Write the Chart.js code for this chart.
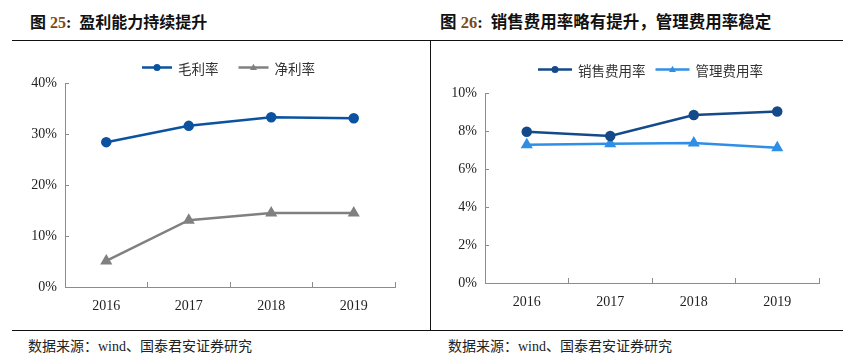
<!DOCTYPE html>
<html>
<head>
<meta charset="utf-8">
<script src="https://cdn.jsdelivr.net/npm/chart.js@4.4.0/dist/chart.umd.min.js"></script>
<style>
  html, body { margin: 0; padding: 0; background: #fff; }
  body { width: 843px; height: 362px; position: relative; overflow: hidden; }
  .title { position: absolute; top: 9px; font: bold 16px "Liberation Serif", "Noto Sans CJK SC", serif; color: #111; white-space: nowrap; }
  .title .num { color: #7b4b12; }
  .note { position: absolute; top: 335px; font: 14px "Liberation Serif", "Noto Sans CJK SC", serif; color: #222; white-space: nowrap; }
  .hline { position: absolute; left: 12px; width: 831px; height: 0; border-top: 1.5px solid #111; }
  .vline { position: absolute; left: 430px; top: 40px; width: 0; height: 290px; border-left: 1.5px solid #111; }
  .box { position: absolute; top: 40px; height: 290px; }
</style>
</head>
<body>
<div class="title" style="left:30px">图 <span class="num">25</span>:&nbsp; 盈利能力持续提升</div>
<div class="title" style="left:440px; font-size:16.5px">图 <span class="num">26</span>:&nbsp; 销售费用率略有提升，管理费用率稳定</div>
<div class="hline" style="top:40px"></div>
<div class="hline" style="top:330px"></div>
<div class="vline"></div>
<div class="box" style="left:0; width:430px"><canvas id="profitChart"></canvas></div>
<div class="box" style="left:431px; width:412px"><canvas id="expenseChart"></canvas></div>
<div class="note" style="left:28px">数据来源：wind、国泰君安证券研究</div>
<div class="note" style="left:448px">数据来源：wind、国泰君安证券研究</div>

<script>
// ---------------------------
// DATA
// ---------------------------
const years = ['2016', '2017', '2018', '2019'];
const grossMargin = [28.4, 31.6, 33.3, 33.1];   // 毛利率 %
const netMargin = [5.1, 13.1, 14.5, 14.5];      // 净利率 %
const sellingRate = [7.96, 7.74, 8.84, 9.03];   // 销售费用率 %
const adminRate = [7.28, 7.33, 7.37, 7.12];     // 管理费用率 %

const serif = "'Liberation Serif', 'Times New Roman', serif";
const cjk = "'Noto Sans CJK SC', sans-serif";
const axisGray = '#8c8c8c';

// legend drawn as line + marker + label, like the source
const lineLegend = {
  id: 'lineLegend',
  afterDraw(chart, args, o) {
    const ctx = chart.ctx;
    let x = o.x;
    const y = o.y;
    ctx.save();
    ctx.font = o.font;
    ctx.textBaseline = 'middle';
    chart.data.datasets.forEach(ds => {
      ctx.strokeStyle = ds.borderColor;
      ctx.lineWidth = ds.borderWidth;
      ctx.beginPath();
      ctx.moveTo(x, y);
      ctx.lineTo(x + o.lineW, y);
      ctx.stroke();
      const cx = x + o.lineW / 2;
      const r = o.markR;
      ctx.fillStyle = ds.pointBackgroundColor;
      ctx.beginPath();
      if (ds.pointStyle === 'triangle') {
        ctx.moveTo(cx, y - r * 1.1);
        ctx.lineTo(cx + r, y + r * 0.7);
        ctx.lineTo(cx - r, y + r * 0.7);
        ctx.closePath();
      } else {
        ctx.arc(cx, y, r, 0, Math.PI * 2);
      }
      ctx.fill();
      ctx.fillStyle = '#333';
      const tx = x + o.lineW + o.textGap;
      ctx.fillText(ds.label, tx, y + 1);
      x = tx + ctx.measureText(ds.label).width + o.itemGap;
    });
    ctx.restore();
  }
};

function makeScales(yMax, step, yWidth, xHeight) {
  return {
    x: {
      offset: true,
      grid: { display: true, drawOnChartArea: false, offset: true, color: axisGray, tickLength: -5, lineWidth: 1 },
      border: { color: axisGray, width: 1 },
      ticks: { color: '#222', font: { family: serif, size: 14 }, padding: 16 },
      afterFit(s) { s.height = xHeight; }
    },
    y: {
      min: 0,
      max: yMax,
      grid: { display: true, drawOnChartArea: false, color: axisGray, tickLength: -4, lineWidth: 1 },
      border: { color: axisGray, width: 1 },
      ticks: {
        stepSize: step,
        color: '#222',
        font: { family: serif, size: 14 },
        padding: 12,
        callback: v => v + '%'
      },
      afterFit(s) { s.width = yWidth; }
    }
  };
}

function lineSet(label, data, color, style, r) {
  return {
    label: label,
    data: data,
    borderColor: color,
    backgroundColor: color,
    pointBackgroundColor: color,
    pointBorderColor: color,
    pointStyle: style,
    pointRadius: r,
    borderWidth: 2.5,
    tension: 0
  };
}

// ---------------------------
// 图25 盈利能力
// ---------------------------
new Chart(document.getElementById('profitChart'), {
  type: 'line',
  data: {
    labels: years,
    datasets: [
      lineSet('毛利率', grossMargin, '#0b52a0', 'circle', 4),
      lineSet('净利率', netMargin, '#808080', 'triangle', 4.5)
    ]
  },
  options: {
    responsive: true,
    maintainAspectRatio: false,
    animation: false,
    layout: { padding: { left: 0, top: 43, right: 35, bottom: 0 } },
    plugins: {
      legend: { display: false },
      tooltip: { enabled: false },
      lineLegend: { x: 142, y: 27.5, lineW: 30, textGap: 6, itemGap: 20, markR: 3.5, font: '13.5px ' + cjk }
    },
    scales: makeScales(40, 10, 65, 43)
  },
  plugins: [lineLegend]
});

// ---------------------------
// 图26 费用率
// ---------------------------
new Chart(document.getElementById('expenseChart'), {
  type: 'line',
  data: {
    labels: years,
    datasets: [
      lineSet('销售费用率', sellingRate, '#144a8a', 'circle', 4),
      lineSet('管理费用率', adminRate, '#2f8fe6', 'triangle', 4.5)
    ]
  },
  options: {
    responsive: true,
    maintainAspectRatio: false,
    animation: false,
    layout: { padding: { left: 0, top: 53, right: 24, bottom: 0 } },
    plugins: {
      legend: { display: false },
      tooltip: { enabled: false },
      lineLegend: { x: 107, y: 29.5, lineW: 34, textGap: 6, itemGap: 10, markR: 3.5, font: '13.5px ' + cjk }
    },
    scales: makeScales(10, 2, 54, 47)
  },
  plugins: [lineLegend]
});
</script>
</body>
</html>
